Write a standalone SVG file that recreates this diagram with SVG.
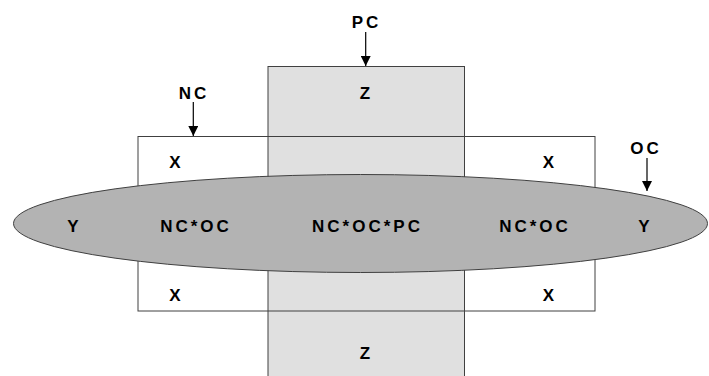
<svg xmlns="http://www.w3.org/2000/svg" width="709" height="376" viewBox="0 0 709 376">
<defs>
<style>
.lbl{font-family:"Liberation Sans",Arial,sans-serif;font-weight:bold;font-size:17px;letter-spacing:3px;fill:#000;text-anchor:middle}
.ln{stroke:#000;stroke-width:1.2;fill:none}
.box{stroke:#404040;stroke-width:1}
</style>
<marker id="ah" viewBox="0 0 10 10" refX="10" refY="5" markerWidth="10" markerHeight="10" markerUnits="userSpaceOnUse" orient="auto">
<path d="M0,0 L10,5 L0,10 Z" fill="#000"/>
</marker>
</defs>
<rect width="709" height="376" fill="#fff"/>
<g id="nc-region">
<rect x="138" y="136.5" width="457" height="174.5" fill="#fff" stroke="none"/>
</g>
<g id="pc-region">
<rect class="box" x="268" y="66.5" width="196.5" height="320" fill="#e0e0e0"/>
</g>
<g id="nc-outline">
<rect class="box" x="138" y="136.5" width="457" height="174.5" fill="none"/>
</g>
<g id="oc-region">
<ellipse class="box" cx="360.5" cy="223.5" rx="347" ry="49" fill="#b3b3b3"/>
</g>
<g id="labels">
<text class="lbl" x="366.5" y="99">Z</text>
<text class="lbl" x="366.5" y="359">Z</text>
<text class="lbl" x="176.5" y="167.5">X</text>
<text class="lbl" x="550" y="167.5">X</text>
<text class="lbl" x="176.5" y="301">X</text>
<text class="lbl" x="550" y="301">X</text>
<text class="lbl" x="74.5" y="232">Y</text>
<text class="lbl" x="645.5" y="232">Y</text>
<text class="lbl" x="196" y="232">NC*OC</text>
<text class="lbl" x="367.5" y="232">NC*OC*PC</text>
<text class="lbl" x="535" y="232">NC*OC</text>
<text class="lbl" x="366.5" y="28">PC</text>
<text class="lbl" x="194" y="99">NC</text>
<text class="lbl" x="646" y="154">OC</text>
</g>
<g id="connectors">
<line class="ln" x1="365.7" y1="32" x2="365.7" y2="66" marker-end="url(#ah)"/>
<line class="ln" x1="193.3" y1="102" x2="193.3" y2="136" marker-end="url(#ah)"/>
<line class="ln" x1="647" y1="158" x2="647" y2="191" marker-end="url(#ah)"/>
</g>
</svg>
